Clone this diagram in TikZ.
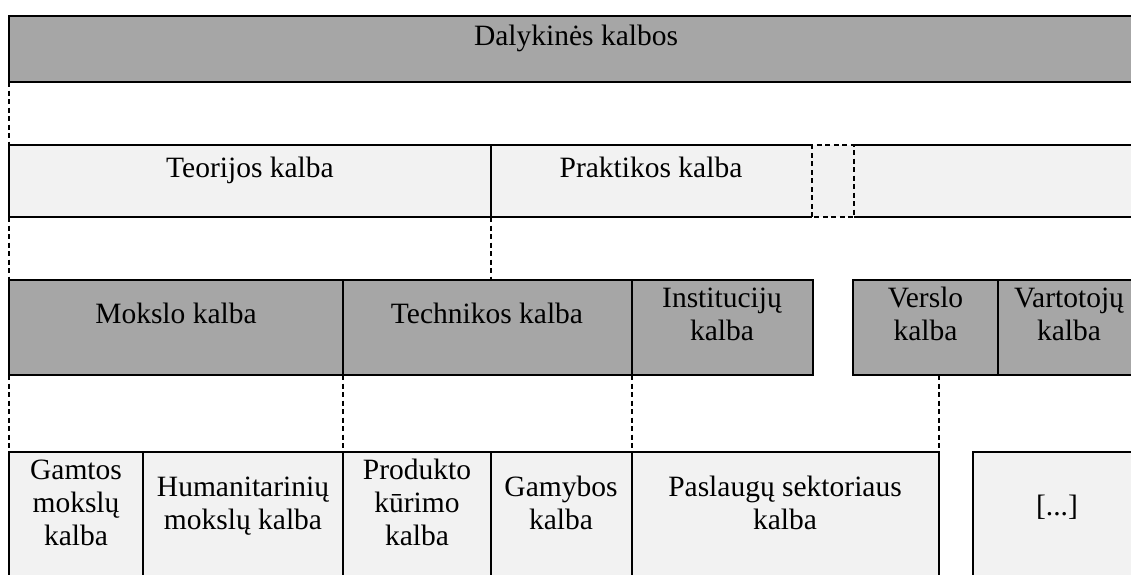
\documentclass[tikz,border=0pt]{standalone}
\usepackage{fontspec}
\setmainfont{Liberation Serif}
\definecolor{dkg}{HTML}{A6A6A6}
\definecolor{ltg}{HTML}{F2F2F2}
\newcommand\ml[1]{\begin{tabular}[t]{@{}c@{}}#1\end{tabular}}
\tikzset{
  cell/.style={inner sep=0pt, outer sep=0pt, anchor=north west},
  darkcell/.style={cell, fill=dkg, draw=black, line width=1.3pt},
  lightcell/.style={cell, fill=ltg, draw=black, line width=1.3pt},
  lightfill/.style={cell, fill=ltg},
  edge/.style={line width=1.3pt},
  conn/.style={line width=1.3pt, dash pattern=on 5pt off 3.5pt},
  lbl/.style={anchor=base, inner sep=0pt, font=\fontsize{29.5}{33}\selectfont},
}
\begin{document}
\begin{tikzpicture}[x=1pt,y=-1pt]
\clip (0,0) rectangle (1131,574);
\fill[white] (0,0) rectangle (1131,574);
% row 1
\node[darkcell, minimum width=1140pt, minimum height=66pt] (dal) at (9,16) {};
% row 2
\node[lightfill, minimum width=482pt, minimum height=72pt] (teo) at (9,145) {};
\node[lightfill, minimum width=321pt, minimum height=72pt] (prak) at (491,145) {};
\node[lightfill, minimum width=42pt, minimum height=72pt] (dots) at (812,145) {};
\node[lightfill, minimum width=290pt, minimum height=72pt] (rest) at (854,145) {};
\draw[edge] (teo.north west) -- (prak.north east);
\draw[edge] (teo.south west) -- (prak.south east);
\draw[edge] (rest.north west) -- (rest.north east);
\draw[edge] (rest.south west) -- (rest.south east);
\draw[edge] (teo.north west) -- (teo.south west);
\draw[edge] (teo.north east) -- (teo.south east);
\draw[conn] (dots.south west) rectangle (dots.north east);
% row 3
\node[darkcell, minimum width=334pt, minimum height=95pt] (mok) at (9,280) {};
\node[darkcell, minimum width=289pt, minimum height=95pt] (tech) at (343,280) {};
\node[darkcell, minimum width=181pt, minimum height=95pt] (inst) at (632,280) {};
\node[darkcell, minimum width=145pt, minimum height=95pt] (vers) at (853,280) {};
\node[darkcell, minimum width=150pt, minimum height=95pt] (vart) at (998,280) {};
% row 4
\node[lightcell, minimum width=134pt, minimum height=150pt] (gam) at (9,452) {};
\node[lightcell, minimum width=200pt, minimum height=150pt] (hum) at (143,452) {};
\node[lightcell, minimum width=148pt, minimum height=150pt] (prod) at (343,452) {};
\node[lightcell, minimum width=141pt, minimum height=150pt] (gamy) at (491,452) {};
\node[lightcell, minimum width=307pt, minimum height=150pt] (pasl) at (632,452) {};
\node[lightcell, minimum width=170pt, minimum height=150pt] (etc) at (973,452) {};
% connectors
\draw[conn] (dal.south west) -- (teo.north west);
\draw[conn] (teo.south west) -- (mok.north west);
\draw[conn] (teo.south east) -- (teo.south east |- tech.north);
\draw[conn] (mok.south west) -- (gam.north west);
\draw[conn] (mok.south east) -- (prod.north west);
\draw[conn] (tech.south east) -- (pasl.north west);
\draw[conn] (pasl.north east |- vers.south) -- (pasl.north east);
% labels
\node[lbl] (t-dal) at (576,45) {Dalykinės kalbos};
\node[lbl] (t-teo) at (250,177) {Teorijos kalba};
\node[lbl] (t-prak) at (651,177) {Praktikos kalba};
\node[lbl] (t-mok) at (176,323) {Mokslo kalba};
\node[lbl] (t-tech) at (487,323) {Technikos kalba};
\node[lbl] (t-inst) at (722,307) {\ml{Institucijų\\kalba}};
\node[lbl] (t-vers) at (925.5,307) {\ml{Verslo\\kalba}};
\node[lbl] (t-vart) at (1069,307) {\ml{Vartotojų\\kalba}};
\node[lbl] (t-gam) at (76,479) {\ml{Gamtos\\mokslų\\kalba}};
\node[lbl] (t-hum) at (243,496) {\ml{Humanitarinių\\mokslų kalba}};
\node[lbl] (t-prod) at (417,479) {\ml{Produkto\\kūrimo\\kalba}};
\node[lbl] (t-gamy) at (561,496) {\ml{Gamybos\\kalba}};
\node[lbl] (t-pasl) at (785,496) {\ml{Paslaugų sektoriaus\\kalba}};
\node[lbl] (t-etc) at (1057,515) {[...]};
\end{tikzpicture}
\end{document}
